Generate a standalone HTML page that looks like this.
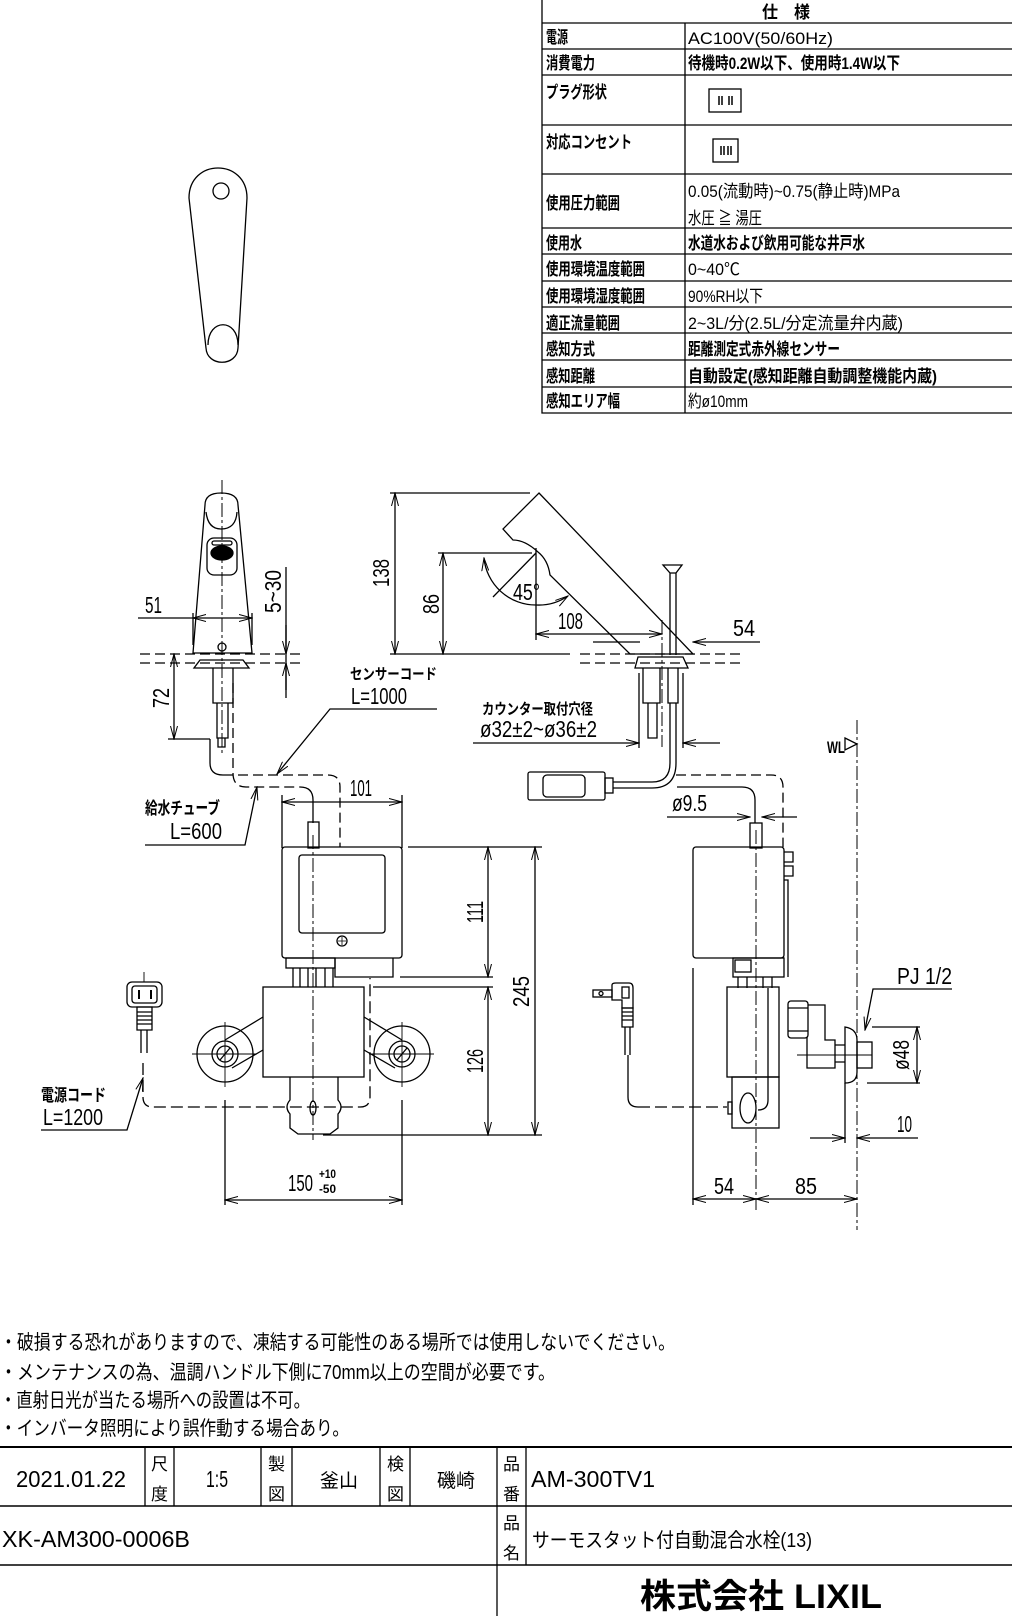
<!DOCTYPE html>
<html><head><meta charset="utf-8"><style>
html,body{margin:0;padding:0;background:#fff;}
svg{display:block;}
text{font-family:"Liberation Sans","Noto Sans CJK JP",sans-serif;fill:#000;}
</style></head><body>
<svg width="1012" height="1616" viewBox="0 0 1012 1616" xmlns="http://www.w3.org/2000/svg">
<defs>
<marker id="a" markerUnits="userSpaceOnUse" markerWidth="14" markerHeight="8" refX="13" refY="4" orient="auto-start-reverse">
<path d="M0,0.5 L13,4 L0,7.5" fill="none" stroke="#000" stroke-width="1"/>
</marker>
</defs>
<g fill="none" stroke="#000" stroke-width="1.3">
<path d="M542,0 V413 H1012 M685,23 V413"/>
<path d="M542,23 H1012 M542,49 H1012 M542,75 H1012 M542,125 H1012 M542,174 H1012 M542,228 H1012 M542,254 H1012 M542,281 H1012 M542,307 H1012 M542,333 H1012 M542,360 H1012 M542,387 H1012"/>
<rect x="709" y="89" width="32" height="23"/>
<rect x="713" y="139" width="25" height="23"/>
<path d="M719,96 v9 M722,96 v9 M729,96 v9 M732,96 v9 M721,146 v9 M724,146 v9 M728,146 v9 M731,146 v9" stroke-width="1.5"/>
</g>
<g font-size="17" font-weight="bold">
<text x="762" y="18" textLength="48" lengthAdjust="spacingAndGlyphs">仕　様</text>
<text x="546" y="43" textLength="22" lengthAdjust="spacingAndGlyphs">電源</text>
<text x="546" y="69" textLength="49" lengthAdjust="spacingAndGlyphs">消費電力</text>
<text x="546" y="98" textLength="61" lengthAdjust="spacingAndGlyphs">プラグ形状</text>
<text x="546" y="148" textLength="86" lengthAdjust="spacingAndGlyphs">対応コンセント</text>
<text x="546" y="209" textLength="74" lengthAdjust="spacingAndGlyphs">使用圧力範囲</text>
<text x="546" y="249" textLength="36" lengthAdjust="spacingAndGlyphs">使用水</text>
<text x="546" y="275" textLength="99" lengthAdjust="spacingAndGlyphs">使用環境温度範囲</text>
<text x="546" y="302" textLength="99" lengthAdjust="spacingAndGlyphs">使用環境湿度範囲</text>
<text x="546" y="329" textLength="74" lengthAdjust="spacingAndGlyphs">適正流量範囲</text>
<text x="546" y="355" textLength="49" lengthAdjust="spacingAndGlyphs">感知方式</text>
<text x="546" y="382" textLength="49" lengthAdjust="spacingAndGlyphs">感知距離</text>
<text x="546" y="407" textLength="74" lengthAdjust="spacingAndGlyphs">感知エリア幅</text>
</g>
<g font-size="17">
<text x="688" y="44" textLength="145" lengthAdjust="spacingAndGlyphs">AC100V(50/60Hz)</text>
<text x="688" y="69" textLength="212" lengthAdjust="spacingAndGlyphs" font-weight="bold">待機時0.2W以下、使用時1.4W以下</text>
<text x="688" y="197" textLength="212" lengthAdjust="spacingAndGlyphs">0.05(流動時)~0.75(静止時)MPa</text>
<text x="688" y="224" textLength="74" lengthAdjust="spacingAndGlyphs">水圧 ≧ 湯圧</text>
<text x="688" y="249" textLength="177" lengthAdjust="spacingAndGlyphs" font-weight="bold">水道水および飲用可能な井戸水</text>
<text x="688" y="275" textLength="52" lengthAdjust="spacingAndGlyphs">0~40℃</text>
<text x="688" y="302" textLength="75" lengthAdjust="spacingAndGlyphs">90%RH以下</text>
<text x="688" y="329" textLength="215" lengthAdjust="spacingAndGlyphs">2~3L/分(2.5L/分定流量弁内蔵)</text>
<text x="688" y="355" textLength="152" lengthAdjust="spacingAndGlyphs" font-weight="bold">距離測定式赤外線センサー</text>
<text x="688" y="382" textLength="249" lengthAdjust="spacingAndGlyphs" font-weight="bold">自動設定(感知距離自動調整機能内蔵)</text>
<text x="688" y="407" textLength="60" lengthAdjust="spacingAndGlyphs">約ø10mm</text>
</g>

<g fill="none" stroke="#000" stroke-width="1.3">
<path d="M189,198 C189,158 247,158 247,198 L238,348 C237,367 207,367 206,348 Z"/>
<path d="M208,345 C208,318 238,318 238,345"/>
<circle cx="221" cy="191" r="8"/>

<path d="M193,653 L205,505 Q205,493 221,493 Q238,493 238,505 L252,653 Z"/>
<path d="M206,512 Q208,529 221,529 Q236,529 237,512"/>
<rect x="207" y="538" width="30" height="37" rx="7"/>
<rect x="212" y="541" width="20" height="4" rx="2"/>
<ellipse cx="222" cy="553" rx="11" ry="7" fill="#000"/>
<circle cx="222" cy="647" r="4"/>
<path d="M200,660 H243 L249,668 H194 Z"/>
<path d="M213,668 V703 H233 V668 M217,703 V738 H228 V703 M218,738 V747 H225 V738"/>
<path d="M140,654 H303 M140,663 H303" stroke-dasharray="10 5"/>
<path d="M222,480 V755" stroke-dasharray="14 3 3 3" stroke-width="1"/>
<path d="M193,613 V645 M252,613 V645"/>
<path d="M138,618 H193"/>
<path d="M222,618 H193" marker-end="url(#a)"/>
<path d="M222,618 H252" marker-end="url(#a)"/>
<path d="M286,567 V698"/>
<path d="M286,625 V654" marker-end="url(#a)"/>
<path d="M286,690 V663" marker-end="url(#a)"/>
<path d="M174,696 V654" marker-end="url(#a)"/>
<path d="M174,696 V739" marker-end="url(#a)"/>
<path d="M168,739 H210"/>
<path d="M210,739 V763 Q210,775 223,775"/>
<path d="M223,775 H328 Q340,775 340,787 V847" stroke-dasharray="10 5"/>
<path d="M233,683 V773 Q233,787 246,787 H300" stroke-dasharray="10 5"/>
<path d="M300,787 Q313,787 313,800 V823"/>
<rect x="308" y="822" width="11" height="26"/>
<path d="M437,709 H330 L277,774" marker-end="url(#a)"/>
<path d="M145,845 H245 L257,787" marker-end="url(#a)"/>
<path d="M282,795 V848 M402,795 V848"/>
<path d="M340,802 H282" marker-end="url(#a)"/>
<path d="M340,802 H402" marker-end="url(#a)"/>
<path d="M390,493 H530 M438,553 H532 M390,654 H570"/>
<path d="M395,573 V493" marker-end="url(#a)"/>
<path d="M395,573 V654" marker-end="url(#a)"/>
<path d="M443,604 V553" marker-end="url(#a)"/>
<path d="M443,604 V654" marker-end="url(#a)"/>

<path d="M539,493 L693,654 L630,654 L550,575 Q548,560 538,552 Q525,540 513,540 L503,529 Z"/>
<path d="M670,573 V655 M676,573 V655 M663,565 H682 L676,573 H670 Z"/>
<path d="M536,553 L493,597"/>
<path d="M536,548 V640"/>
<path d="M484,558 A52,52 0 0 0 536,605" marker-start="url(#a)"/>
<path d="M536,605 A52,52 0 0 0 568,596" marker-end="url(#a)"/>
<path d="M600,634 H536" marker-end="url(#a)"/>
<path d="M600,634 H662" marker-end="url(#a)"/>
<path d="M593,642 H640"/>
<path d="M760,642 H693" marker-end="url(#a)"/>
<path d="M662,620 V747" stroke-dasharray="14 3 3 3" stroke-width="1"/>
<path d="M580,654 H743 M580,663 H743" stroke-dasharray="10 5"/>
<path d="M638,657 H683 L688,668 H635 Z"/>
<path d="M643,668 V703 H660 V668 M648,703 V738 H657 V703 M668,668 V703 H678 V668"/>
<path d="M639,673 V748 M683,673 V748"/>
<path d="M473,743 H639" marker-end="url(#a)"/>
<path d="M720,743 H683" marker-end="url(#a)"/>
<rect x="528" y="772" width="77" height="28" rx="2"/>
<rect x="543" y="775" width="42" height="22" rx="4"/>
<rect x="605" y="778" width="8" height="15"/>
<path d="M613,782 H652 Q670,782 670,763 V703 M613,788 H652 Q676,788 676,763 V703"/>
<path d="M676,775 H771 Q783,775 783,787 V847" stroke-dasharray="10 5"/>
<path d="M677,787 H742 Q755,787 755,800 V823"/>
<rect x="750" y="823" width="12" height="25"/>
<path d="M667,817 H750" marker-end="url(#a)"/>
<path d="M797,817 H762" marker-end="url(#a)"/>
<path d="M845,738 L857,744 L845,750 Z"/>
<path d="M857,720 V1230" stroke-dasharray="14 3 3 3" stroke-width="1"/>

<rect x="282" y="847" width="120" height="111" rx="3"/>
<rect x="299" y="855" width="86" height="78" rx="3"/>
<circle cx="342" cy="941" r="5"/>
<path d="M338,941 h8 M342,937 v8" stroke-width="0.8"/>
<rect x="286" y="958" width="49" height="10"/>
<path d="M335,958 V977 H393 V958"/>
<path d="M293,968 V987 M300,968 V987 M308,968 V987 M316,968 V987 M325,968 V987 M333,968 V987"/>
<rect x="263" y="987" width="101" height="90"/>
<path d="M263,1017 L225,1040 M263,1050 L232,1068 M364,1017 L402,1040 M364,1050 L395,1068"/>
<circle cx="225" cy="1054" r="28"/><circle cx="225" cy="1054" r="13"/><circle cx="225" cy="1054" r="8"/>
<circle cx="402" cy="1054" r="28"/><circle cx="402" cy="1054" r="13"/><circle cx="402" cy="1054" r="8"/>
<path d="M220,1060 L230,1048 M397,1060 L407,1048"/>
<path d="M192,1054 H257 M225,1022 V1087 M369,1054 H434 M402,1022 V1087" stroke-width="0.9"/>
<path d="M290,1077 V1100 Q284,1107 290,1114 V1128 L298,1134 H330 L338,1128 V1114 Q344,1107 338,1100 V1077"/>
<ellipse cx="313" cy="1108" rx="3" ry="7"/>
<path d="M313,835 V1140" stroke-dasharray="14 3 3 3" stroke-width="1"/>
<path d="M143,1063 V1097 Q143,1107 153,1107 H360 Q370,1107 370,1097 V978" stroke-dasharray="12 5"/>
<rect x="127" y="982" width="35" height="25" rx="5"/>
<rect x="132" y="986" width="25" height="17" rx="3"/>
<path d="M139,990 v9 M151,990 v9" stroke-width="2"/>
<path d="M137,1007 H152 V1030 H137 Z M137,1012 H152 M137,1016 H152 M137,1020 H152 M137,1024 H152"/>
<path d="M141,1030 V1053 M147,1030 V1053"/>
<path d="M144,972 V982" stroke-width="0.9"/>
<path d="M41,1130 H127 L143,1078" marker-end="url(#a)"/>
<path d="M225,1100 V1205 M402,1100 V1205"/>
<path d="M313,1200 H225" marker-end="url(#a)"/>
<path d="M313,1200 H402" marker-end="url(#a)"/>
<path d="M408,847 H542 M400,977 H493 M373,987 H493 M323,1135 H542"/>
<path d="M488,912 V847" marker-end="url(#a)"/>
<path d="M488,912 V977" marker-end="url(#a)"/>
<path d="M488,1060 V987" marker-end="url(#a)"/>
<path d="M488,1060 V1135" marker-end="url(#a)"/>
<path d="M535,990 V847" marker-end="url(#a)"/>
<path d="M535,990 V1135" marker-end="url(#a)"/>

<rect x="693" y="847" width="91" height="111" rx="3"/>
<path d="M784,852 h9 v10 h-9 M784,866 h9 v10 h-9 M784,880 h4 V977"/>
<rect x="733" y="958" width="51" height="19"/>
<rect x="735" y="960" width="16" height="12"/>
<path d="M738,977 V988 M747,977 V988 M763,977 V988 M772,977 V988"/>
<rect x="727" y="987" width="52" height="90"/>
<rect x="732" y="1077" width="47" height="51"/>
<ellipse cx="748" cy="1108" rx="8" ry="15"/>
<rect x="728" y="1102" width="4" height="12"/>
<path d="M768,988 V1100 Q768,1110 758,1110" />
<path d="M756,830 V1210" stroke-dasharray="14 3 3 3" stroke-width="1"/>
<rect x="788" y="1001" width="20" height="37" rx="3"/>
<path d="M788,1008 H808 M788,1031 H808"/>
<path d="M808,1005 H825 V1040 H835 V1068 H807 V1037"/>
<path d="M835,1045 H845 M835,1062 H845"/>
<path d="M845,1027 Q857,1029 857,1040 V1072 Q857,1083 845,1083 Z"/>
<rect x="857" y="1042" width="15" height="26"/>
<path d="M797,1055 H872" stroke-width="0.9"/>
<path d="M872,1027 H920 M867,1083 H920"/>
<path d="M917,1055 V1027" marker-end="url(#a)"/>
<path d="M917,1055 V1083" marker-end="url(#a)"/>
<path d="M952,989 H873 L865,1030" marker-end="url(#a)"/>
<path d="M845,1083 V1143"/>
<path d="M810,1138 H845" marker-end="url(#a)"/>
<path d="M918,1138 H857" marker-end="url(#a)"/>
<path d="M693,968 V1205"/>
<path d="M725,1199 H693" marker-end="url(#a)"/>
<path d="M725,1199 H756" marker-end="url(#a)"/>
<path d="M806,1199 H756" marker-end="url(#a)"/>
<path d="M806,1199 H857" marker-end="url(#a)"/>
<rect x="593" y="990" width="19" height="7"/>
<circle cx="601" cy="993.5" r="2"/>
<path d="M612,985 Q612,983 616,983 H629 Q633,983 633,988 V1008 H622 V1000 H612 Z"/>
<rect x="622" y="987" width="7" height="11"/>
<path d="M622,1008 H633 V1027 H622 Z M622,1012 H633 M622,1016 H633 M622,1020 H633"/>
<path d="M625,1027 V1055 M630,1027 V1055"/>
<path d="M628,1055 V1097 Q628,1107 638,1107"/>
<path d="M638,1107 H727" stroke-dasharray="12 5"/>

<path d="M0,1447 H1012" stroke-width="2"/>
<path d="M0,1506 H1012 M0,1565 H1012" stroke-width="1.5"/>
<path d="M145,1447 V1506 M174,1447 V1506 M261,1447 V1506 M292,1447 V1506 M380,1447 V1506 M410,1447 V1506 M497,1447 V1616 M526,1447 V1565"/>
</g>

<g font-size="23">
<text x="145" y="613" textLength="17" lengthAdjust="spacingAndGlyphs">51</text>
<text transform="translate(281,613) rotate(-90)" textLength="43" lengthAdjust="spacingAndGlyphs">5~30</text>
<text transform="translate(169,708) rotate(-90)" textLength="20" lengthAdjust="spacingAndGlyphs">72</text>
<text x="350" y="679" font-size="15" font-weight="bold" textLength="87" lengthAdjust="spacingAndGlyphs">センサーコード</text>
<text x="351" y="704" textLength="56" lengthAdjust="spacingAndGlyphs">L=1000</text>
<text x="145" y="814" font-size="17" font-weight="bold" textLength="75" lengthAdjust="spacingAndGlyphs">給水チューブ</text>
<text x="170" y="839" textLength="52" lengthAdjust="spacingAndGlyphs">L=600</text>
<text x="350" y="796" textLength="22" lengthAdjust="spacingAndGlyphs">101</text>
<text x="0" y="0" transform="translate(389,587) rotate(-90)" textLength="28" lengthAdjust="spacingAndGlyphs">138</text>
<text transform="translate(439,614) rotate(-90)" textLength="20" lengthAdjust="spacingAndGlyphs">86</text>
<text x="513" y="600" textLength="27" lengthAdjust="spacingAndGlyphs">45°</text>
<text x="558" y="629" textLength="25" lengthAdjust="spacingAndGlyphs">108</text>
<text x="733" y="636" textLength="22" lengthAdjust="spacingAndGlyphs">54</text>
<text x="482" y="714" font-size="15" font-weight="bold" textLength="111" lengthAdjust="spacingAndGlyphs">カウンター取付穴径</text>
<text x="480" y="737" textLength="117" lengthAdjust="spacingAndGlyphs">ø32±2~ø36±2</text>
<text x="672" y="811" textLength="35" lengthAdjust="spacingAndGlyphs">ø9.5</text>
<text x="827" y="753" font-size="17" font-weight="bold" textLength="18" lengthAdjust="spacingAndGlyphs">WL</text>
<text transform="translate(483,923) rotate(-90)" textLength="22" lengthAdjust="spacingAndGlyphs">111</text>
<text transform="translate(483,1073) rotate(-90)" textLength="24" lengthAdjust="spacingAndGlyphs">126</text>
<text transform="translate(529,1007) rotate(-90)" textLength="31" lengthAdjust="spacingAndGlyphs">245</text>
<text x="288" y="1191" textLength="25" lengthAdjust="spacingAndGlyphs">150</text>
<text x="319" y="1178" font-size="12" font-weight="bold" textLength="17" lengthAdjust="spacingAndGlyphs">+10</text>
<text x="319" y="1193" font-size="12" font-weight="bold" textLength="17" lengthAdjust="spacingAndGlyphs">-50</text>
<text x="41" y="1101" font-size="17" font-weight="bold" textLength="65" lengthAdjust="spacingAndGlyphs">電源コード</text>
<text x="43" y="1125" textLength="60" lengthAdjust="spacingAndGlyphs">L=1200</text>
<text x="897" y="984" textLength="55" lengthAdjust="spacingAndGlyphs">PJ 1/2</text>
<text transform="translate(909,1070) rotate(-90)" textLength="30" lengthAdjust="spacingAndGlyphs">ø48</text>
<text x="897" y="1132" textLength="15" lengthAdjust="spacingAndGlyphs">10</text>
<text x="714" y="1194" textLength="20" lengthAdjust="spacingAndGlyphs">54</text>
<text x="795" y="1194" textLength="22" lengthAdjust="spacingAndGlyphs">85</text>
</g>

<g font-size="20">
<text x="0" y="1349" textLength="675" lengthAdjust="spacingAndGlyphs">・破損する恐れがありますので、凍結する可能性のある場所では使用しないでください。</text>
<text x="0" y="1379" textLength="555" lengthAdjust="spacingAndGlyphs">・メンテナンスの為、温調ハンドル下側に70mm以上の空間が必要です。</text>
<text x="0" y="1407" textLength="310" lengthAdjust="spacingAndGlyphs">・直射日光が当たる場所への設置は不可。</text>
<text x="0" y="1435" textLength="349" lengthAdjust="spacingAndGlyphs">・インバータ照明により誤作動する場合あり。</text>
</g>

<g font-size="23">
<text x="16" y="1487" textLength="110" lengthAdjust="spacingAndGlyphs">2021.01.22</text>
<text x="151" y="1470" font-size="17">尺</text><text x="151" y="1500" font-size="17">度</text>
<text x="206" y="1487" textLength="22" lengthAdjust="spacingAndGlyphs">1:5</text>
<text x="268" y="1470" font-size="17">製</text><text x="268" y="1500" font-size="17">図</text>
<text x="320" y="1487" font-size="19">釜山</text>
<text x="387" y="1470" font-size="17">検</text><text x="387" y="1500" font-size="17">図</text>
<text x="437" y="1487" font-size="19">磯崎</text>
<text x="503" y="1470" font-size="17">品</text><text x="503" y="1500" font-size="17">番</text>
<text x="531" y="1487" textLength="124" lengthAdjust="spacingAndGlyphs">AM-300TV1</text>
<text x="2" y="1547" textLength="188" lengthAdjust="spacingAndGlyphs">XK-AM300-0006B</text>
<text x="503" y="1529" font-size="17">品</text><text x="503" y="1559" font-size="17">名</text>
<text x="532" y="1547" font-size="20" textLength="280" lengthAdjust="spacingAndGlyphs">サーモスタット付自動混合水栓(13)</text>
<text x="640" y="1608" font-size="34" font-weight="bold" textLength="242" lengthAdjust="spacingAndGlyphs">株式会社 LIXIL</text>
</g>
</svg>
</body></html>
